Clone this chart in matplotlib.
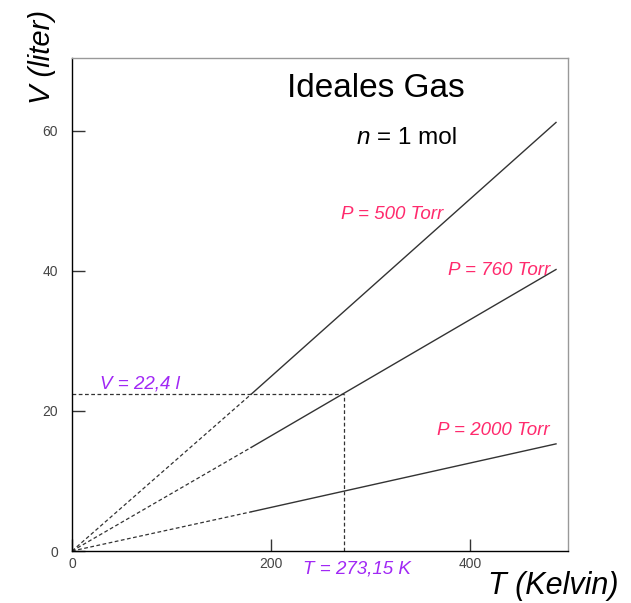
"""Ideal gas isobars: V vs T for n = 1 mol at three pressures."""

import matplotlib
matplotlib.use("Agg")
import matplotlib.pyplot as plt

plt.rcParams["font.family"] = ["Liberation Sans", "DejaVu Sans"]

# ---------------------------------------------------------------------------
# Data
# ---------------------------------------------------------------------------
pressure_labels = ["P = 500 Torr", "P = 760 Torr", "P = 2000 Torr"]
T_dashed = [0, 180]          # extrapolated part (K)
T_solid = [180, 486]         # measured part (K)
V_dashed = [[0, 22.4], [0, 14.8], [0, 5.6]]
V_solid = [[22.4, 61.2], [14.8, 40.2], [5.6, 15.3]]
label_pos = [(270, 48.0), (378, 40.1), (367, 17.2)]

T_norm = 273.15
V_norm = 22.4

x_ticks = [0, 200, 400]
y_ticks = [0, 20, 40, 60]

PINK = "#ff2a6d"
PURPLE = "#a128f5"
LINE = "#333333"

# ---------------------------------------------------------------------------
# Figure
# ---------------------------------------------------------------------------
fig = plt.figure(figsize=(6.31, 6.03), dpi=100)
ax = fig.add_axes([0.1141, 0.0862, 0.786, 0.8176])
ax.set_xlim(0, 498)
ax.set_ylim(0, 70.4)

for vd, vs in zip(V_dashed, V_solid):
    ax.plot(T_dashed, vd, color=LINE, lw=0.9, ls=(0, (3, 2)))
    ax.plot(T_solid, vs, color=LINE, lw=1.0)

for lab, (tx, vy) in zip(pressure_labels, label_pos):
    ax.text(tx, vy, lab, color=PINK, fontsize=13.5, style="italic",
            ha="left", va="center")

# reference point at standard conditions
ax.plot([0, T_norm], [V_norm, V_norm], color=LINE, lw=0.9, ls=(0, (3, 2)))
ax.plot([T_norm, T_norm], [0, V_norm], color=LINE, lw=0.9, ls=(0, (3, 2)))
ax.text(28, V_norm + 0.3, "V = 22,4 l", color=PURPLE, fontsize=13.5,
        style="italic", ha="left", va="bottom")
ax.text(232, -1.3, "T = 273,15 K", color=PURPLE, fontsize=13.5,
        style="italic", ha="left", va="top", clip_on=False)

ax.text(305, 66.1, "Ideales Gas", fontsize=24, ha="center", va="center")
ax.text(306, 59.0, "= 1 mol", fontsize=17.5, ha="left", va="center")
ax.text(299, 59.0, "n", fontsize=17.5, style="italic", ha="right",
        va="center")

# axes styling
ax.set_xticks(x_ticks)
ax.set_yticks(y_ticks)
ax.tick_params(direction="in", length=9, width=1, colors="#333333",
               labelsize=10, labelcolor="#444444", pad=10)
ax.tick_params(axis="x", pad=4)
ax.spines["left"].set_color("black")
ax.spines["bottom"].set_color("black")
ax.spines["top"].set_color("#999999")
ax.spines["right"].set_color("#999999")
for s in ax.spines.values():
    s.set_linewidth(1.0)

fig.text(0.066, 0.905, "V (liter)", rotation=90, fontsize=21,
         style="italic", ha="center", va="center")
fig.text(0.877, 0.028, "T (Kelvin)", fontsize=22, style="italic",
         ha="center", va="center")

fig.savefig("out.png", dpi=100)
